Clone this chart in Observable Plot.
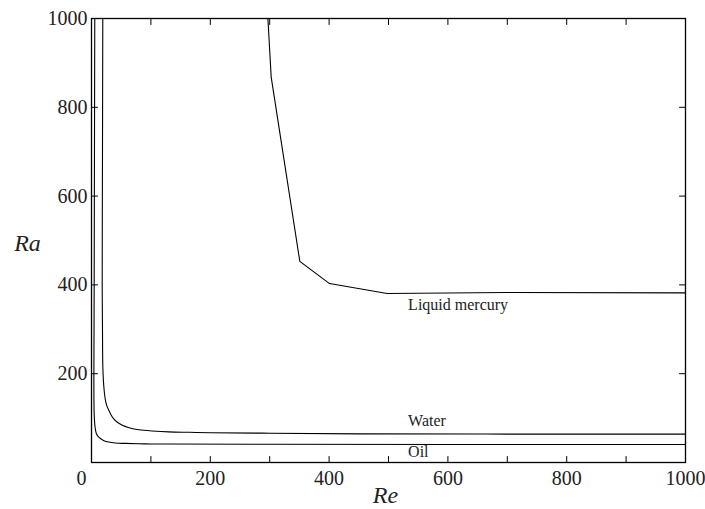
<!DOCTYPE html>
<html><head><meta charset="utf-8">
<script src="https://cdn.jsdelivr.net/npm/d3@7"></script>
<script src="https://cdn.jsdelivr.net/npm/@observablehq/plot@0.6"></script>
<style>body{margin:0;background:#fff}</style>
</head><body><div id="chart"></div>
<script>
// Oil curve (Re, Ra)
const oilRe = [5.5, 5, 4.5, 4, 4.5, 6, 8, 11, 15, 21, 29, 40, 57, 90, 125, 300, 600, 1000];
const oilRa = [1000, 700, 400, 200, 110, 80, 66, 59, 54, 49, 46, 44, 43, 42, 41.5, 41, 40.5, 40.5];
// Water curve
const waterRe = [19, 18.5, 18, 18.5, 19, 20, 21.5, 23.5, 26, 29, 33, 37, 44, 52, 62, 74, 88, 102, 130, 165, 200, 300, 450, 700, 1000];
const waterRa = [1000, 700, 400, 300, 220, 185, 160, 140, 127, 118, 107, 99, 90, 84, 79, 75, 72.5, 71, 69, 68, 67, 66, 64.5, 64, 64];
// Liquid mercury curve
const mercuryRe = [297, 302.5, 350.7, 400.7, 497.8, 700, 1000];
const mercuryRa = [1000, 868, 453, 403, 380.6, 383, 382];
// Curve labels
const labelText = ["Liquid mercury", "Water", "Oil"];
const labelRe = [533, 533, 533];
const labelRa = [356, 94, 23];
// Ticks
const xTicks = [0, 100, 200, 300, 400, 500, 600, 700, 800, 900, 1000];
const xTickLabels = [200, 400, 600, 800, 1000];
const xOriginLabel = [0];
const yTicks = [200, 400, 600, 800, 1000];
const xLabel = "Re";
const yLabel = "Ra";

const toRows = (xs, ys) => xs.map((x, i) => ({Re: x, Ra: ys[i]}));
const oil = toRows(oilRe, oilRa);
const water = toRows(waterRe, waterRa);
const mercury = toRows(mercuryRe, mercuryRa);
const labels = labelText.map((t, i) => ({t, Re: labelRe[i], Ra: labelRa[i]}));

const tickShape = {draw(context, l) { context.moveTo(0, 0); context.lineTo(0, -l); }};
const tickOpts = {length: 6, anchor: "start", shape: tickShape, stroke: "black", strokeWidth: 1};
const fmt = d => String(d);

const chart = Plot.plot({
  width: 705,
  height: 509,
  marginLeft: 91,
  marginRight: 20,
  marginTop: 18,
  marginBottom: 47,
  style: {fontFamily: "'Liberation Serif', 'Times New Roman', serif", fontSize: "20px", background: "#fff", color: "#222", overflow: "visible"},
  x: {domain: [0, 1000]},
  y: {domain: [0, 1000]},
  marks: [
    Plot.frame({stroke: "black", strokeWidth: 1.3}),
    Plot.vector(xTicks, {...tickOpts, x: d => d, frameAnchor: "bottom", rotate: 0}),
    Plot.vector(xTicks, {...tickOpts, x: d => d, frameAnchor: "top", rotate: 180}),
    Plot.vector(yTicks, {...tickOpts, y: d => d, frameAnchor: "left", rotate: 90}),
    Plot.vector(yTicks, {...tickOpts, y: d => d, frameAnchor: "right", rotate: -90}),
    Plot.axisX(xTickLabels, {anchor: "bottom", tickSize: 0, tickPadding: 8, label: null, fontSize: 20, tickFormat: fmt}),
    Plot.text(xOriginLabel, {x: d => d, frameAnchor: "bottom", text: fmt, lineAnchor: "top", dy: 8, dx: -10, fontSize: 20}),
    Plot.axisY(yTicks, {anchor: "left", tickSize: 0, tickPadding: 4, label: null, fontSize: 20, tickFormat: fmt}),
    Plot.line(oil, {x: "Re", y: "Ra", curve: "catmull-rom", stroke: "black", strokeWidth: 1.1}),
    Plot.line(water, {x: "Re", y: "Ra", curve: "catmull-rom", stroke: "black", strokeWidth: 1.1}),
    Plot.line(mercury, {x: "Re", y: "Ra", stroke: "black", strokeWidth: 1.1}),
    Plot.text(labels, {x: "Re", y: "Ra", text: "t", textAnchor: "start", fontSize: 16}),
    Plot.text([xLabel], {text: d => d, frameAnchor: "bottom", textAnchor: "middle", lineAnchor: "middle", dy: 33, dx: -3, fontSize: 24, fontStyle: "italic"}),
    Plot.text([yLabel], {text: d => d, frameAnchor: "left", textAnchor: "middle", lineAnchor: "middle", dx: -64, dy: 3, fontSize: 24, fontStyle: "italic"})
  ]
});
document.getElementById("chart").appendChild(chart);
</script>
</body></html>
